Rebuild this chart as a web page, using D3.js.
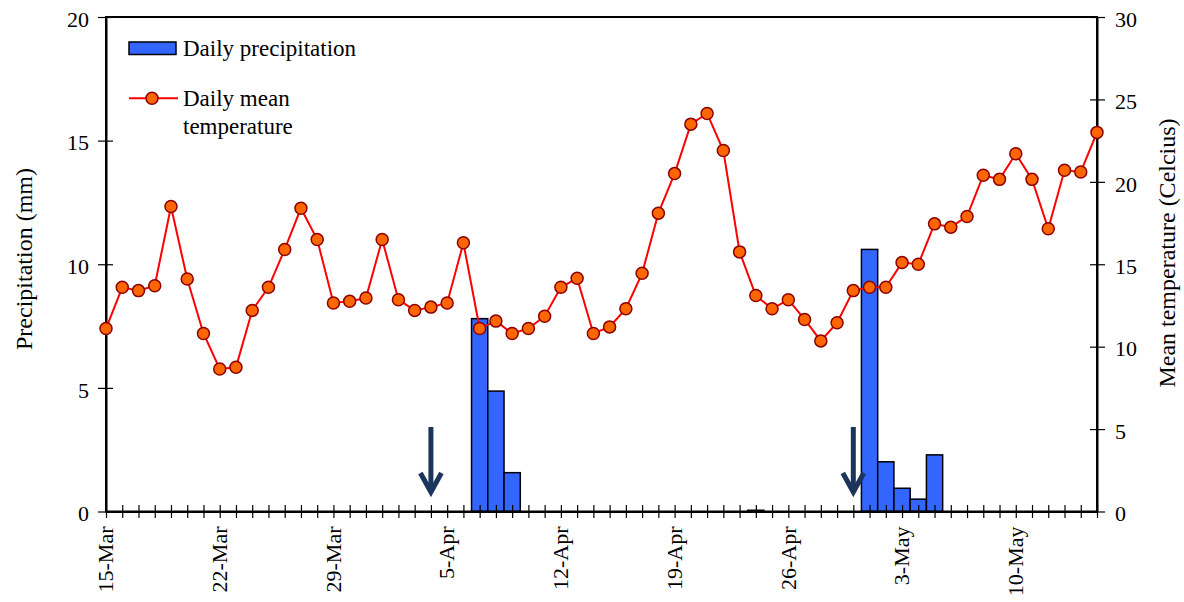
<!DOCTYPE html>
<html>
<head>
<meta charset="utf-8">
<script src="https://cdn.jsdelivr.net/npm/d3@7"></script>
<style>
  html, body { margin: 0; padding: 0; background: #fff; }
  svg { display: block; }
  svg text { font-family: "Liberation Serif", serif; }
</style>
</head>
<body>
<svg id="chart" width="1184" height="602" font-family="Liberation Serif, serif"></svg>
<script>
// Observation period (one value per day, 15 March to 15 May)
const startDate = "15-Mar";
const endDate = "15-May";
const year = 2013;

// Daily precipitation (mm)
const precipitation = [
  0, 0, 0, 0, 0, 0, 0, 0, 0, 0,
  0, 0, 0, 0, 0, 0, 0, 0, 0, 0,
  0, 0, 0, 7.8, 4.87, 1.57, 0, 0, 0, 0,
  0, 0, 0, 0, 0, 0, 0, 0, 0, 0,
  0.05, 0, 0, 0, 0, 0, 0, 10.6, 2.01, 0.94,
  0.5, 2.29, 0, 0, 0, 0, 0, 0, 0, 0,
  0, 0
];

// Daily mean temperature (Celcius)
const temperature = [
  11.1, 13.6, 13.4, 13.7, 18.5, 14.1, 10.8, 8.65, 8.75, 12.2,
  13.6, 15.9, 18.4, 16.5, 12.65, 12.75, 12.95, 16.5, 12.85, 12.2,
  12.4, 12.65, 16.3, 11.1, 11.55, 10.8, 11.1, 11.85, 13.6, 14.15,
  10.8, 11.2, 12.3, 14.45, 18.1, 20.5, 23.5, 24.15, 21.9, 15.75,
  13.1, 12.3, 12.85, 11.65, 10.35, 11.45, 13.4, 13.6, 13.6, 15.1,
  15.0, 17.45, 17.25, 17.9, 20.4, 20.15, 21.7, 20.15, 17.15, 20.7,
  20.6, 23.0
];

// Weekly date labels on the horizontal axis
const tickLabels = ["15-Mar", "22-Mar", "29-Mar", "5-Apr", "12-Apr", "19-Apr", "26-Apr", "3-May", "10-May"];

// Dates marked with arrows
const arrowDates = ["4-Apr", "30-Apr"];

// Axis ticks
const precipTicks = [0, 5, 10, 15, 20];
const tempTicks = [0, 5, 10, 15, 20, 25, 30];

const parse = s => d3.timeParse("%d-%b-%Y")(s + "-" + year);
const days = d3.timeDay.range(parse(startDate), d3.timeDay.offset(parse(endDate), 1));
const precipData = days.map((d, i) => ({ date: d, value: precipitation[i] }));
const tempData = days.map((d, i) => ({ date: d, value: temperature[i] }));

const svg = d3.select("#chart");
const serif = "Liberation Serif, serif";
const plotLeft = 106, plotRight = 1097, plotTop = 17, plotBottom = 511.5;
const tickFont = 22, titleFont = 24, legendFont = 23;

const x = d3.scaleTime().domain([parse(startDate), parse(endDate)]).range([plotLeft, plotRight]);
const yP = d3.scaleLinear().domain([0, 20]).range([plotBottom, plotTop]);
const yT = d3.scaleLinear().domain([0, 30]).range([plotBottom, plotTop]);
const dayW = x(days[1]) - x(days[0]);

// Precipitation bars, centred on each day
svg.append("g").selectAll("rect")
  .data(precipData.filter(d => d.value > 0))
  .join("rect")
  .attr("x", d => x(d.date) - dayW / 2)
  .attr("y", d => yP(d.value))
  .attr("width", dayW)
  .attr("height", d => yP(0) - yP(d.value))
  .attr("fill", "#3366FF")
  .attr("stroke", "#000")
  .attr("stroke-width", 1.5);

// Frame
svg.append("rect")
  .attr("x", plotLeft).attr("y", plotTop)
  .attr("width", plotRight - plotLeft).attr("height", plotBottom - plotTop)
  .attr("fill", "none").attr("stroke", "#000").attr("stroke-width", 2);

// Bottom axis: a tick for every day, labels once a week
const xAxis = svg.append("g")
  .attr("transform", `translate(0,${plotBottom})`)
  .call(d3.axisBottom(x).tickValues(days).tickSize(0).tickFormat(""));
xAxis.select(".domain").attr("stroke", "#000").attr("stroke-width", 2);
xAxis.selectAll(".tick line").attr("y1", -6.5).attr("y2", 6.5).attr("stroke", "#000").attr("stroke-width", 1.2);

svg.append("g").selectAll("text")
  .data(tickLabels)
  .join("text")
  .attr("transform", d => `translate(${x(parse(d))},${plotBottom + 15}) rotate(-90)`)
  .attr("dy", "0.33em")
  .attr("text-anchor", "end")
  .attr("font-family", serif)
  .attr("font-size", tickFont)
  .attr("fill", "#000")
  .text(d => d);

// Left axis: precipitation
const yLeft = svg.append("g")
  .attr("transform", `translate(${plotLeft},0)`)
  .call(d3.axisLeft(yP).tickValues(precipTicks).tickSize(0).tickPadding(17));
yLeft.select(".domain").attr("stroke", "#000").attr("stroke-width", 2);
yLeft.selectAll(".tick line").attr("x1", -8).attr("x2", 7).attr("stroke", "#000").attr("stroke-width", 1.2);
yLeft.selectAll(".tick text")
  .attr("font-size", tickFont).attr("font-family", serif)
  .attr("fill", "#000").attr("dy", "0.42em");

// Right axis: temperature
const yRight = svg.append("g")
  .attr("transform", `translate(${plotRight},0)`)
  .call(d3.axisRight(yT).tickValues(tempTicks).tickSize(0).tickPadding(18));
yRight.select(".domain").attr("stroke", "#000").attr("stroke-width", 2);
yRight.selectAll(".tick line").attr("x1", -7).attr("x2", 8).attr("stroke", "#000").attr("stroke-width", 1.2);
yRight.selectAll(".tick text")
  .attr("font-size", tickFont).attr("font-family", serif)
  .attr("fill", "#000").attr("dy", "0.42em");

// Axis titles
svg.append("text")
  .attr("transform", `translate(32,259) rotate(-90)`)
  .attr("text-anchor", "middle")
  .attr("font-family", serif)
  .attr("font-size", titleFont)
  .text("Precipitation (mm)");

svg.append("text")
  .attr("transform", `translate(1175,253) rotate(-90)`)
  .attr("text-anchor", "middle")
  .attr("font-family", serif)
  .attr("font-size", titleFont)
  .text("Mean temperature (Celcius)");

// Temperature line with markers
svg.append("path")
  .datum(tempData)
  .attr("fill", "none")
  .attr("stroke", "#FF0000")
  .attr("stroke-width", 2)
  .attr("d", d3.line().x(d => x(d.date)).y(d => yT(d.value)));

svg.append("g").selectAll("circle")
  .data(tempData)
  .join("circle")
  .attr("cx", d => x(d.date))
  .attr("cy", d => yT(d.value))
  .attr("r", 6)
  .attr("fill", "#FF6600")
  .attr("stroke", "#8B0000")
  .attr("stroke-width", 1.5);

// Arrows pointing down to the axis
const arrows = svg.append("g")
  .attr("fill", "none")
  .attr("stroke", "#1B355B")
  .attr("stroke-width", 5);
arrowDates.forEach(s => {
  const ax = x(parse(s));
  arrows.append("line")
    .attr("x1", ax).attr("x2", ax)
    .attr("y1", 427).attr("y2", 492);
  arrows.append("path")
    .attr("stroke-linejoin", "miter")
    .attr("d", `M${ax - 10.5},${473} L${ax},${492} L${ax + 10.5},${473}`);
});

// Legend
const legend = svg.append("g").attr("font-family", serif).attr("font-size", legendFont);
legend.append("rect")
  .attr("x", 129).attr("y", 42).attr("width", 47).attr("height", 12.5)
  .attr("fill", "#3366FF").attr("stroke", "#000").attr("stroke-width", 1.5);
legend.append("text").attr("x", 183).attr("y", 56).text("Daily precipitation");
legend.append("line")
  .attr("x1", 129).attr("x2", 178).attr("y1", 98.3).attr("y2", 98.3)
  .attr("stroke", "#FF0000").attr("stroke-width", 2);
legend.append("circle")
  .attr("cx", 152).attr("cy", 98.3).attr("r", 6)
  .attr("fill", "#FF6600").attr("stroke", "#8B0000").attr("stroke-width", 1.5);
legend.append("text").attr("x", 183).attr("y", 106).text("Daily mean");
legend.append("text").attr("x", 183).attr("y", 134).text("temperature");
</script>
</body>
</html>
